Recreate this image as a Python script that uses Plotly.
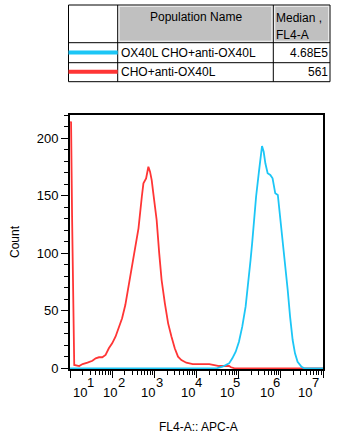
import plotly.graph_objects as go

# ---------------- data ----------------
population_names = ["OX40L CHO+anti-OX40L", "CHO+anti-OX40L"]
median_labels = ["4.68E5", "561"]
header_labels = ["Population Name", "Median ,<br>FL4-A"]

# CHO+anti-OX40L (red) histogram: FL4-A intensity vs count
red_x = [10.1, 10.6, 11.2, 11.9, 12.2, 12.6, 16.5, 19.9, 26.0, 34.0, 40.7, 48.6,
         58.4, 69.8, 83.4, 100, 120, 143, 172, 205, 245, 295, 352, 421, 505, 551,
         638, 722, 791, 866, 946, 1135, 1306, 1487, 1778, 2124, 2553, 3050, 3645,
         4375, 5728, 8180, 11740, 20150, 34570, 59300, 66070, 80000, 1.0e7]
red_y = [214.4, 214.0, 131.8, 50.7, 27.5, 2.9, 2.0, 3.7, 4.9, 6.6, 8.7, 9.6,
         9.6, 11.6, 17.4, 21.7, 27.5, 34.8, 43.5, 55.0, 71.0, 88.3, 105.7, 121.7,
         149.2, 160.9, 165.2, 175.3, 171.0, 163.7, 152.2, 129.0, 100.0, 76.8, 56.5,
         39.1, 27.5, 17.4, 10.1, 7.2, 4.9, 3.7, 3.7, 3.7, 2.0, 2.0, 0.9, 0, 0]

# OX40L CHO+anti-OX40L (cyan) histogram
cyan_x = [10, 30000, 41300, 59300, 70800, 85100, 101600, 121600, 146100, 174600,
          191400, 208600, 228500, 258800, 299300, 328100, 357800, 392000, 429600,
          486200, 562600, 636800, 737700, 848900, 966400, 1094000, 1265000,
          1456000, 1656000, 1906000, 2168000, 2495000, 3097000, 3580000, 1.0e7]
cyan_y = [0, 0, 1.4, 4.3, 8.7, 14.4, 23.1, 36.2, 53.6, 76.8, 94.2, 108.7, 129.0,
          149.2, 169.6, 184.0, 193.3, 188.3, 178.3, 169.6, 168.1, 165.2, 152.2,
          150.7, 131.8, 111.6, 91.3, 68.1, 44.9, 24.6, 13.0, 5.7, 1.4, 0, 0]

x_exponents = [1, 2, 3, 4, 5, 6, 7]
y_ticks = [0, 50, 100, 150, 200]

# ---------------- style ----------------
RED = "#ff3535"
CYAN = "#1cc6f6"
FONT = "Liberation Sans, Arial, sans-serif"
W, H = 347, 440
L, R, T, B = 70, 24, 115, 71
PW, PH = W - L - R, H - T - B


def px(x):
    return (x - L) / PW


def py(y):
    return (H - B - y) / PH


fig = go.Figure()
fig.add_trace(go.Scatter(x=red_x, y=red_y, mode="lines",
                         line=dict(color=RED, width=1.8), showlegend=False))
fig.add_trace(go.Scatter(x=cyan_x, y=cyan_y, mode="lines",
                         line=dict(color=CYAN, width=1.8), showlegend=False))

fig.update_layout(
    width=W, height=H,
    margin=dict(l=L, r=R, t=T, b=B),
    paper_bgcolor="white", plot_bgcolor="white",
    font=dict(family=FONT, size=12, color="black"),
    showlegend=False,
)
fig.update_xaxes(
    type="log", range=[1, 7], tickvals=[10 ** e for e in x_exponents],
    showticklabels=False, ticks="outside", ticklen=7, tickwidth=1.2,
    tickcolor="black", showline=True, linecolor="black", linewidth=2,
    mirror=True, showgrid=False, zeroline=False,
    minor=dict(ticks="outside", ticklen=4, tickwidth=1, tickcolor="black",
               dtick="D1", showgrid=False),
)
fig.update_yaxes(
    range=[-0.6, 220.3], tickvals=y_ticks, ticks="outside", ticklen=7,
    tickwidth=1.2, tickcolor="black", tickfont=dict(size=13),
    showline=True, linecolor="black", linewidth=2, mirror=True,
    showgrid=False, zeroline=False,
    title=dict(text="Count", font=dict(size=12), standoff=14),
    minor=dict(ticks="outside", ticklen=4, tickwidth=1, tickcolor="black",
               dtick=10, showgrid=False),
)

ann = []
# x tick labels (FlowJo style "10" + exponent)
base_px = [80, 110, 148.3, 188.3, 226.7, 266.7, 305]
exp_px = [90, 121, 159.3, 198.3, 236.7, 276.7, 315]
for e, bx, ex in zip(x_exponents, base_px, exp_px):
    ann.append(dict(text="10", x=px(bx), y=py(392), xref="paper", yref="paper",
                    showarrow=False, font=dict(size=13), xanchor="center",
                    yanchor="middle", borderpad=0))
    ann.append(dict(text=str(e), x=px(ex), y=py(382.5), xref="paper",
                    yref="paper", showarrow=False, font=dict(size=13),
                    xanchor="center", yanchor="middle", borderpad=0))
ann.append(dict(text="FL4-A:: APC-A", x=px(198), y=py(427), xref="paper",
                yref="paper", showarrow=False, font=dict(size=12),
                xanchor="center", yanchor="middle", borderpad=0))

# ---------------- table ----------------
tx0, tx1, tx2, tx3 = 68.5, 117.7, 273.3, 330
ty0, ty1, ty2, ty3 = 5, 42.7, 62.7, 81.7
shapes = []
# gray header cells
for a, b in [(tx1, tx2), (tx2, tx3)]:
    shapes.append(dict(type="rect", xref="paper", yref="paper",
                       x0=px(a + 1.5), x1=px(b - 1.5), y0=py(ty0 + 1.5),
                       y1=py(ty1 - 1.5), fillcolor="#c0c0c0",
                       line=dict(color="#e8e8e8", width=1)))
# grid
shapes.append(dict(type="rect", xref="paper", yref="paper", x0=px(tx0),
                   x1=px(tx3), y0=py(ty0), y1=py(ty3),
                   line=dict(color="black", width=1)))
for xv in [tx1, tx2]:
    shapes.append(dict(type="line", xref="paper", yref="paper", x0=px(xv),
                       x1=px(xv), y0=py(ty0), y1=py(ty3),
                       line=dict(color="black", width=1)))
for yv in [ty1, ty2]:
    shapes.append(dict(type="line", xref="paper", yref="paper", x0=px(tx0),
                       x1=px(tx3), y0=py(yv), y1=py(yv),
                       line=dict(color="black", width=1)))
# legend swatches
row_y = [52.5, 71.8]
for yv, col in zip(row_y, [CYAN, RED]):
    shapes.append(dict(type="line", xref="paper", yref="paper", x0=px(tx0),
                       x1=px(tx1), y0=py(yv), y1=py(yv),
                       line=dict(color=col, width=4)))

ann.append(dict(text=header_labels[0], x=px((tx1 + tx2) / 2), y=py(17),
                xref="paper", yref="paper", showarrow=False,
                xanchor="center", yanchor="middle", borderpad=0))
ann.append(dict(text="Median ,", x=px(275), y=py(18.3), xref="paper",
                yref="paper", showarrow=False, xanchor="left",
                yanchor="middle", borderpad=0))
ann.append(dict(text="FL4-A", x=px(275), y=py(35.5), xref="paper",
                yref="paper", showarrow=False, xanchor="left",
                yanchor="middle", borderpad=0))
for yv, name, med in zip(row_y, population_names, median_labels):
    ann.append(dict(text=name, x=px(119.5), y=py(yv), xref="paper",
                    yref="paper", showarrow=False, xanchor="left",
                    yanchor="middle", borderpad=0))
    ann.append(dict(text=med, x=px(328.5), y=py(yv), xref="paper",
                    yref="paper", showarrow=False, xanchor="right",
                    yanchor="middle", borderpad=0))

fig.update_layout(shapes=shapes, annotations=ann)
fig.write_html("out.html")
